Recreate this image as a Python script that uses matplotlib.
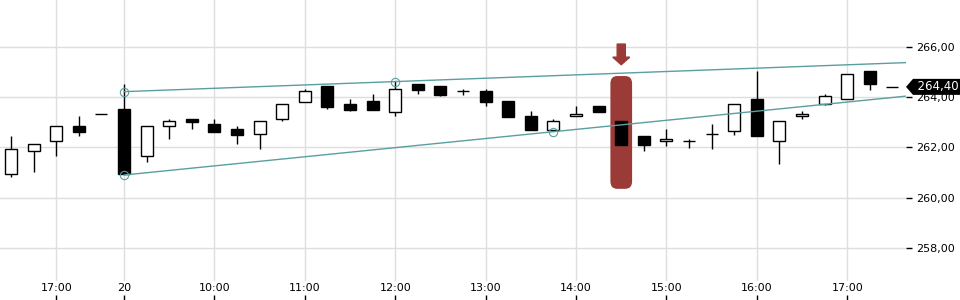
import numpy as np
import matplotlib
matplotlib.use("Agg")
import matplotlib.pyplot as plt
import matplotlib.transforms as mtransforms
from matplotlib.patches import Rectangle, FancyBboxPatch, Polygon

# 15-minute candles
opens = [260.93, 261.84, 262.24, 262.83, 263.32, 263.52, 261.64, 262.83, 263.12, 262.92,
         262.73, 262.52, 263.11, 263.81, 264.43, 263.72, 263.84, 263.41, 264.51, 264.43,
         264.22, 264.22, 263.83, 263.23, 262.70, 263.23, 263.63, 263.04, 262.44, 262.24,
         262.25, 262.53, 262.63, 263.90, 262.24, 263.23, 263.71, 263.90, 265.02, 264.40]
closes = [261.92, 262.12, 262.83, 262.62, 263.32, 260.93, 262.83, 263.03, 263.02, 262.62,
          262.50, 263.03, 263.71, 264.23, 263.61, 263.49, 263.49, 264.30, 264.29, 264.09,
          264.22, 263.81, 263.21, 262.70, 263.03, 263.32, 263.41, 262.10, 262.10, 262.32,
          262.25, 262.53, 263.71, 262.44, 263.03, 263.31, 264.02, 264.90, 264.50, 264.40]
highs = [262.45, 262.12, 262.83, 263.24, 263.32, 264.50, 262.83, 263.12, 263.12, 263.12,
         262.85, 263.03, 263.71, 264.31, 264.43, 263.92, 264.13, 264.62, 264.51, 264.43,
         264.31, 264.31, 263.83, 263.44, 263.12, 263.63, 263.63, 263.04, 262.44, 262.73,
         262.33, 262.92, 263.71, 265.03, 263.03, 263.43, 264.12, 264.90, 265.02, 264.40]
lows = [260.83, 261.03, 261.67, 262.46, 263.32, 260.92, 261.43, 262.34, 262.74, 262.62,
        262.14, 261.94, 263.06, 263.81, 263.53, 263.44, 263.49, 263.25, 264.13, 264.05,
        264.06, 263.65, 263.21, 262.70, 262.65, 263.23, 263.41, 262.10, 261.87, 262.06,
        261.96, 261.94, 262.48, 262.44, 261.35, 263.13, 263.67, 263.90, 264.26, 264.40]

tick_idx = [2, 5, 9, 13, 17, 21, 25, 29, 33, 37]
tick_labels = ["17:00", "20", "10:00", "11:00", "12:00", "13:00", "14:00", "15:00", "16:00", "17:00"]
price_ticks = [258, 260, 262, 264, 266]

# trend channel anchors (candle index, price)
upper_pts = [(5, 264.21), (17, 264.61)]
lower_pts = [(5, 260.90), (24, 262.62)]
signal_idx = 27
last_price = 264.40

teal = "#5a9ea0"
red = "#9b3b37"

fig = plt.figure(figsize=(9.6, 3.0), dpi=100)
ax = fig.add_axes([0, 19 / 300, 906 / 960, 281 / 300])
ax.set_xlim(-0.49, 39.6)
ax.set_ylim(256.69, 267.85)

for s in ax.spines.values():
    s.set_visible(False)
ax.set_xticks(tick_idx, tick_labels)
ax.set_yticks(price_ticks, [f"{v:.2f}".replace(".", ",") for v in price_ticks])
ax.yaxis.tick_right()
ax.tick_params(axis="x", length=0, pad=1.5, labelsize=8)
ax.tick_params(axis="y", length=4, pad=3, labelsize=8, width=1)
ax.grid(True, color="#dedede", lw=1)
ax.set_axisbelow(True)

# small marks under the time labels
ax.vlines(tick_idx, -19 / 281, -14 / 281, color="black", lw=1,
          transform=ax.get_xaxis_transform(), clip_on=False)

# highlighted signal candle
hl = FancyBboxPatch((signal_idx - 0.48, 260.35), 0.96, 4.48,
                    boxstyle="round,pad=0,rounding_size=0.3",
                    fc=red, ec="none", zorder=2)
ax.add_patch(hl)
ax.arrow(signal_idx, 266.1, 0, -0.82, width=0.36, head_width=0.75, head_length=0.3,
         length_includes_head=True, color=red, zorder=3)

w = 0.53
for i, (o, h, l, c) in enumerate(zip(opens, highs, lows, closes)):
    if h > max(o, c):
        ax.vlines(i, max(o, c), h, color="black", lw=1, zorder=4)
    if l < min(o, c):
        ax.vlines(i, l, min(o, c), color="black", lw=1, zorder=4)
    if o == c:
        ax.hlines(o, i - w / 2, i + w / 2, color="black", lw=1, zorder=5)
        continue
    fc = "black" if c < o else "white"
    ax.add_patch(Rectangle((i - w / 2, min(o, c)), w, abs(c - o),
                           fc=fc, ec="black", lw=1, zorder=5))

# trend channel
x_end = ax.get_xlim()[1]
for pts in (upper_pts, lower_pts):
    xs, ys = zip(*pts)
    k, b = np.polyfit(xs, ys, 1)
    ax.plot([xs[0], x_end], [k * xs[0] + b, k * x_end + b], color=teal, lw=1, zorder=6)
    ax.plot(xs, ys, "o", ms=6, mfc="none", mec=teal, mew=0.8, zorder=6)

# last price tag
tr = fig.dpi_scale_trans + mtransforms.ScaledTranslation(1.0, last_price, ax.get_yaxis_transform())
tag = Polygon([(0, 0), (0.07, 0.08), (0.56, 0.08), (0.56, -0.08), (0.07, -0.08)],
              closed=True, fc="black", ec="none", transform=tr, clip_on=False, zorder=10)
ax.add_patch(tag)
ax.text(1.0, last_price, "  " + f"{last_price:.2f}".replace(".", ","),
        transform=mtransforms.offset_copy(ax.get_yaxis_transform(), fig=fig, x=3, units="points"),
        color="white", fontsize=8.5, va="center", ha="left", zorder=11, clip_on=False)

fig.savefig("out.png", dpi=100)
